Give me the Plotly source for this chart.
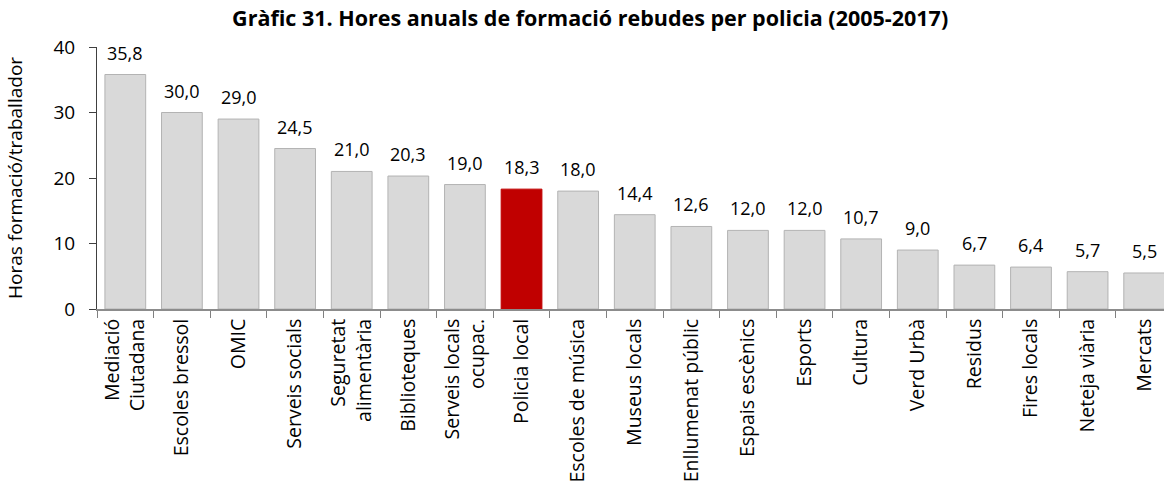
import plotly.graph_objects as go

categories = ["Mediació<br>Ciutadana", "Escoles bressol", "OMIC", "Serveis socials",
              "Seguretat<br>alimentària", "Biblioteques", "Serveis locals<br>ocupac.",
              "Policia local", "Escoles de música", "Museus locals", "Enllumenat públic",
              "Espais escènics", "Esports", "Cultura", "Verd Urbà", "Residus",
              "Fires locals", "Neteja viària", "Mercats"]
values = [35.8, 30.0, 29.0, 24.5, 21.0, 20.3, 19.0, 18.3, 18.0, 14.4, 12.6,
          12.0, 12.0, 10.7, 9.0, 6.7, 6.4, 5.7, 5.5]
highlight = "Policia local"

colors = ["#c00000" if c == highlight else "#d9d9d9" for c in categories]
edges = ["#c00000" if c == highlight else "#b3b3b3" for c in categories]

font = "Open Sans, Noto Sans, sans-serif"

fig = go.Figure()
fig.add_trace(go.Bar(x=categories, y=values, marker=dict(color=colors, line=dict(color=edges, width=1)),
                     width=0.72, hoverinfo="skip"))

for c, v in zip(categories, values):
    fig.add_annotation(x=c, y=v, text=f"{v:.1f}".replace(".", ","), showarrow=False,
                       yanchor="bottom", yshift=8, font=dict(size=18, color="#000000", family=font))

# y axis title placed by hand (axis title standoff is ignored without automargin)
fig.add_annotation(xref="paper", yref="paper", x=-0.0769, y=0.5, xanchor="center", yanchor="middle",
                   text="Horas formació/traballador", textangle=-90, showarrow=False,
                   font=dict(size=19, family=font, color="#000000"))

fig.update_layout(
    width=1164, height=484,
    margin=dict(l=97, r=0, t=47, b=175, autoexpand=False),
    paper_bgcolor="white", plot_bgcolor="white",
    showlegend=False,
    font=dict(family=font, size=18, color="#000000"),
    title=dict(text="<b>Gràfic 31. Hores anuals de formació rebudes per policia (2005-2017)</b>",
               x=0.507, xanchor="center", y=0.961, yanchor="middle",
               font=dict(size=21.5, family=font, color="#000000")),
)
fig.update_xaxes(range=[-0.5, 18.35], tickangle=-90, tickson="boundaries", ticks="outside",
                 ticklen=7, tickcolor="#808080", showline=True, linecolor="#8c8c8c", linewidth=2,
                 showgrid=False, automargin=False,
                 tickfont=dict(size=19.5, family=font, color="#000000"))
fig.update_yaxes(range=[0, 40], tickvals=[0, 10, 20, 30, 40], ticks="outside", ticklen=7,
                 tickcolor="#404040", showline=True, linecolor="#404040", linewidth=1,
                 showgrid=False, zeroline=False, automargin=False, ticklabelstandoff=10,
                 tickfont=dict(size=19, family=font, color="#000000"))

# drop the default 8px body margin so the figure sits at the page origin
fig.write_html("out.html", config={"displayModeBar": False},
               post_script="document.body.style.margin='0';document.body.style.overflow='hidden';")
